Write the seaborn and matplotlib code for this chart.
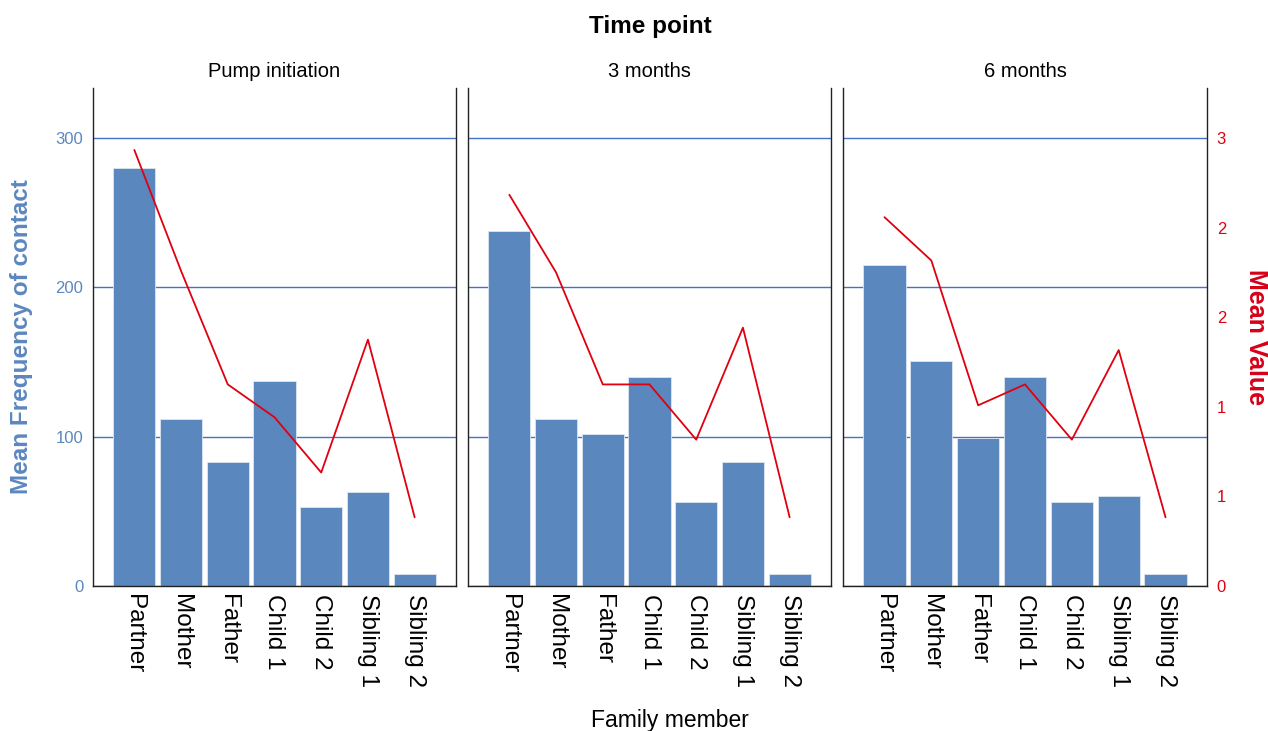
import numpy as np
import pandas as pd
import matplotlib
matplotlib.use("Agg")
import matplotlib.pyplot as plt
import seaborn as sns

# data
time_points = ["Pump initiation", "3 months", "6 months"]
members = ["Partner", "Mother", "Father", "Child 1", "Child 2", "Sibling 1", "Sibling 2"]

freq_pump = [280, 112, 83, 137, 53, 63, 8]
freq_3m = [238, 112, 102, 140, 56, 83, 8]
freq_6m = [215, 151, 99, 140, 56, 60, 8]

value_pump = [2.92, 2.11, 1.35, 1.13, 0.76, 1.65, 0.46]
value_3m = [2.62, 2.10, 1.35, 1.35, 0.98, 1.73, 0.46]
value_6m = [2.47, 2.18, 1.21, 1.35, 0.98, 1.58, 0.46]

right_ticks = [0, 0.6, 1.2, 1.8, 2.4, 3.0]

freqs = [freq_pump, freq_3m, freq_6m]
values = [value_pump, value_3m, value_6m]

bar_color = "#5b87bf"
grid_color = "#4472c4"
red = "#e0000f"

sns.set_theme(style="white")
plt.rcParams["font.family"] = ["Liberation Sans", "DejaVu Sans"]
plt.rcParams["text.color"] = "black"
plt.rcParams["xtick.color"] = "black"

fig = plt.figure(figsize=(12.68, 7.31), dpi=100)

lefts = [93, 468, 843]
widths = [363, 363, 364]
for i, tp in enumerate(time_points):
    ax = fig.add_axes([lefts[i] / 1268, 1 - 586 / 731, widths[i] / 1268, (586 - 88) / 731])
    df = pd.DataFrame({"member": members, "freq": freqs[i]})
    sns.barplot(data=df, x="member", y="freq", color=bar_color, saturation=1,
                width=0.9, edgecolor="#dce6f2", linewidth=0.6, ax=ax)
    ax.set_xlim(-0.885, 6.885)
    ax.set_ylim(0, 333.5)
    ax.set_yticks([0, 100, 200, 300])
    ax.set_axisbelow(True)
    ax.yaxis.grid(True, color=grid_color, linewidth=1.0)
    ax.xaxis.grid(False)
    ax.spines["top"].set_visible(False)
    for s in ["left", "right", "bottom"]:
        ax.spines[s].set_color("#222222")
        ax.spines[s].set_linewidth(1.0)
    ax.tick_params(axis="x", length=0, pad=6, labelsize=17.5, labelrotation=-90,
                   labelcolor="black")
    for lbl in ax.get_xticklabels():
        lbl.set_va("top")
        lbl.set_ha("center")
    ax.set_xlabel("")
    ax.set_ylabel("")
    if i == 0:
        ax.tick_params(axis="y", length=0, pad=7, labelsize=12, labelcolor=bar_color)
    else:
        ax.tick_params(axis="y", length=0, labelleft=False)
    ax.set_title(tp, fontsize=14.5, pad=8, color="black")

    ax2 = ax.twinx()
    sns.lineplot(x=np.arange(len(members)), y=values[i], sort=False,
                 color=red, linewidth=1.3, ax=ax2)
    ax2.set_ylim(0, 3.335)
    for s in ax2.spines.values():
        s.set_visible(False)
    ax2.set_xlim(-0.885, 6.885)
    if i == 2:
        ax2.set_yticks(right_ticks)
        ax2.set_yticklabels(["%.0f" % v for v in right_ticks])
        ax2.tick_params(axis="y", length=0, pad=7, labelsize=12, labelcolor=red)
        ax2.set_ylabel("Mean Value", rotation=270, fontsize=18, fontweight="bold",
                       color="#d40018", labelpad=30)
    else:
        ax2.set_yticks([])

fig.text(650 / 1268, 1 - 26 / 731, "Time point", ha="center", va="center",
         fontsize=17.5, fontweight="bold")
fig.text(22 / 1268, 1 - 337 / 731, "Mean Frequency of contact", rotation=90,
         ha="center", va="center", fontsize=17.5, fontweight="bold", color=bar_color)
fig.text(670 / 1268, 1 - 720 / 731, "Family member", ha="center", va="center",
         fontsize=16.5)

fig.savefig("out.png", dpi=100)
